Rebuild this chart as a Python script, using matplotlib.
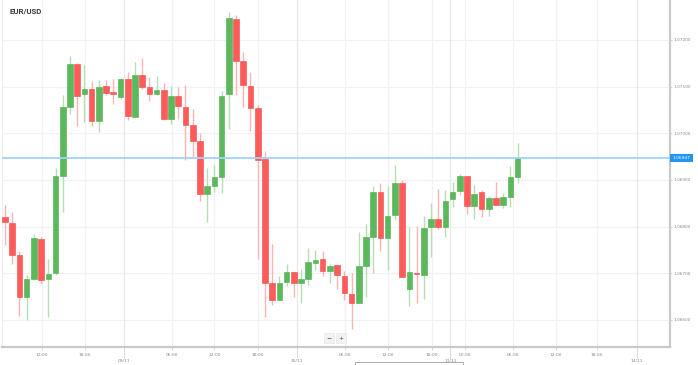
import matplotlib
matplotlib.use("Agg")
import matplotlib.pyplot as plt
import matplotlib.transforms as mtransforms
from matplotlib.patches import Rectangle

# ---------------- data (hourly EUR/USD candles) ----------------
opens = [1.06821, 1.06808, 1.06739, 1.06650, 1.06688, 1.06774, 1.06687, 1.06701, 1.06909, 1.07057,
         1.07149, 1.07084, 1.07094, 1.07026, 1.07101, 1.07088, 1.07078, 1.07116, 1.07036, 1.07126,
         1.07099, 1.07084, 1.07093, 1.07031, 1.07081, 1.07057, 1.07018, 1.06984, 1.06871, 1.06888,
         1.06907, 1.07084, 1.07245, 1.07154, 1.07102, 1.07054, 1.06944, 1.06680, 1.06643, 1.06681,
         1.06703, 1.06679, 1.06688, 1.06723, 1.06730, 1.06705, 1.06718, 1.06695, 1.06655, 1.06637,
         1.06716, 1.06777, 1.06875, 1.06775, 1.06826, 1.06893, 1.06666, 1.06701, 1.06696, 1.06799,
         1.06816, 1.06800, 1.06859, 1.06876, 1.06909, 1.06845, 1.06874, 1.06838, 1.06862, 1.06846,
         1.06863, 1.06906]
highs = [1.06846, 1.06832, 1.06748, 1.06696, 1.06784, 1.06778, 1.06731, 1.06926, 1.07082, 1.07166,
         1.07150, 1.07146, 1.07113, 1.07114, 1.07114, 1.07116, 1.07118, 1.07132, 1.07152, 1.07161,
         1.07120, 1.07123, 1.07107, 1.07101, 1.07100, 1.07104, 1.07052, 1.07001, 1.06926, 1.06932,
         1.07091, 1.07259, 1.07254, 1.07175, 1.07132, 1.07061, 1.06963, 1.06762, 1.06695, 1.06720,
         1.06703, 1.06709, 1.06755, 1.06750, 1.06748, 1.06721, 1.06718, 1.06705, 1.06701, 1.06788,
         1.06805, 1.06888, 1.06894, 1.06888, 1.06932, 1.06900, 1.06800, 1.06801, 1.06823, 1.06850,
         1.06880, 1.06879, 1.06896, 1.06912, 1.06909, 1.06889, 1.06879, 1.06866, 1.06895, 1.06873,
         1.06930, 1.06980]
lows = [1.06761, 1.06720, 1.06609, 1.06600, 1.06686, 1.06677, 1.06607, 1.06696, 1.06832, 1.07041,
        1.07016, 1.07025, 1.07016, 1.07003, 1.07082, 1.07063, 1.07073, 1.07029, 1.07034, 1.07094,
        1.07070, 1.07082, 1.07029, 1.07019, 1.07030, 1.06943, 1.06949, 1.06856, 1.06809, 1.06875,
        1.06873, 1.07009, 1.07082, 1.07057, 1.07005, 1.06730, 1.06607, 1.06632, 1.06642, 1.06673,
        1.06649, 1.06637, 1.06675, 1.06707, 1.06695, 1.06679, 1.06666, 1.06643, 1.06580, 1.06636,
        1.06650, 1.06700, 1.06748, 1.06707, 1.06814, 1.06693, 1.06631, 1.06637, 1.06646, 1.06736,
        1.06794, 1.06777, 1.06843, 1.06868, 1.06827, 1.06816, 1.06821, 1.06823, 1.06846, 1.06841,
        1.06842, 1.06894]
closes = [1.06809, 1.06739, 1.06650, 1.06687, 1.06776, 1.06686, 1.06699, 1.06909, 1.07057, 1.07149,
          1.07081, 1.07094, 1.07026, 1.07100, 1.07087, 1.07084, 1.07116, 1.07037, 1.07126, 1.07100,
          1.07084, 1.07093, 1.07030, 1.07081, 1.07059, 1.07018, 1.06983, 1.06871, 1.06888, 1.06907,
          1.07081, 1.07247, 1.07154, 1.07104, 1.07054, 1.06943, 1.06680, 1.06643, 1.06680, 1.06703,
          1.06679, 1.06688, 1.06724, 1.06729, 1.06705, 1.06716, 1.06696, 1.06657, 1.06637, 1.06716,
          1.06777, 1.06874, 1.06775, 1.06823, 1.06893, 1.06693, 1.06702, 1.06699, 1.06798, 1.06816,
          1.06800, 1.06855, 1.06875, 1.06909, 1.06844, 1.06871, 1.06838, 1.06862, 1.06846, 1.06863,
          1.06906, 1.06947]
current_price = 1.06947

price_ticks = [1.06600, 1.06700, 1.06800, 1.06900, 1.07000, 1.07100, 1.07200]
hour_labels = ["12:00", "18:00", "06:00", "12:00", "18:00", "06:00", "12:00", "18:00",
               "00:00", "06:00", "12:00", "18:00"]
date_labels = ["09/11", "10/11", "11/11", "14/11"]
title = "EUR/USD"

# ---------------- layout ----------------
W, H = 698, 365
hour_pos = [5.08, 11.08, 23.09, 29.0, 35.0, 47.1, 53.05, 59.1, 63.7, 70.4, 76.3, 82.0]
date_pos = [16.5, 40.4, 61.7, 87.5]

GREEN = "#5cb85c"
GREEN_E = "#4cae4c"
GREEN_W = "#b5deb5"
RED = "#ff5b5b"
RED_E = "#f04848"
RED_W = "#ffb4b4"
GRID = "#f2f2f2"
AXC = "#c9c9c9"
TXT = "#8a8a8a"

fig = plt.figure(figsize=(W / 100, H / 100), dpi=100)
fig.patch.set_facecolor("white")
ax = fig.add_axes([2 / W, 18 / H, 668 / W, 347 / H])
ax.set_facecolor("white")

ax.set_xlim(-0.415, 92.105)
ax.set_ylim(1.065421, 1.072857)

# grid
for p in price_ticks:
    ax.axhline(p, color=GRID, lw=0.9, zorder=0)
for p in hour_pos:
    ax.axvline(p, color=GRID, lw=0.9, zorder=0)
for p in date_pos:
    ax.axvline(p, color="#e8e8e8", lw=0.9, zorder=0)

# candles
xs = list(range(len(opens)))
for i in xs:
    o, h, l, c = opens[i], highs[i], lows[i], closes[i]
    up = c >= o
    ax.vlines(i, l, h, colors=GREEN_W if up else RED_W, lw=1.0, zorder=2)
    bottom = min(o, c)
    height = max(abs(c - o), 0.000025)
    ax.bar(i, height, bottom=bottom, width=0.78,
           color=GREEN if up else RED, edgecolor=GREEN_E if up else RED_E,
           lw=0.4, zorder=3)

# current price line
ax.axhline(current_price, color="#9fd3f7", lw=1.3, zorder=4)
trans_y = mtransforms.blended_transform_factory(ax.transAxes, ax.transData)
ax.text(1.0035, current_price, f"{current_price:.5f}", transform=trans_y,
        fontsize=3.2, color="white", ha="left", va="center", clip_on=False,
        bbox=dict(boxstyle="square,pad=0.55", fc="#2196f3", ec="none"), zorder=6)

# spines
for s in ["top"]:
    ax.spines[s].set_visible(False)
ax.spines["left"].set_color("#eeeeee")
ax.spines["left"].set_linewidth(0.8)
ax.spines["right"].set_color(AXC)
ax.spines["right"].set_linewidth(1.6)
ax.spines["bottom"].set_color(AXC)
ax.spines["bottom"].set_linewidth(1.6)

# y ticks (right)
ax.yaxis.tick_right()
ax.set_yticks(price_ticks)
ax.set_yticklabels([f"{p:.5f}" for p in price_ticks])
ax.tick_params(axis="y", which="major", length=1.6, width=0.6, color=AXC,
               labelsize=3.1, labelcolor=TXT, pad=0.8)

# x ticks
ax.set_xticks(hour_pos)
ax.set_xticklabels(hour_labels)
ax.tick_params(axis="x", which="major", length=2.0, width=0.5, color=AXC,
               labelsize=3.2, labelcolor=TXT, pad=2.5)
ax.set_xticks(date_pos, minor=True)
ax.set_xticklabels(date_labels, minor=True)
ax.tick_params(axis="x", which="minor", length=0, labelsize=3.2,
               labelcolor=TXT, pad=9.0)
trans_x = mtransforms.blended_transform_factory(ax.transData, ax.transAxes)
for p in date_pos:
    ax.plot([p, p], [0, -0.032], transform=trans_x, color="#b0b0b0", lw=0.6,
            ls=(0, (1, 1)), clip_on=False, zorder=5)

# title
fig.text(10 / W, 1 - 11 / H, title, fontsize=5.6, fontweight="bold",
         color="#3a3a3a", ha="left", va="center", family="Roboto")

# zoom buttons
for x0, lab in [(329, "\u2212"), (341, "+")]:
    fig.text(x0 / W, 1 - 338 / H, lab, fontsize=4.5, color="#444444",
             ha="center", va="center",
             bbox=dict(boxstyle="square,pad=0.35", fc="#f2f2f2", ec="#e4e4e4", lw=0.4))

# bottom cut-off info box
fig.patches.append(Rectangle((355 / W, -2 / H), 108 / W, 5.5 / H, transform=fig.transFigure,
                             fc="white", ec="#a0a0a0", lw=0.6))

fig.savefig("out.png", dpi=100, facecolor="white")
